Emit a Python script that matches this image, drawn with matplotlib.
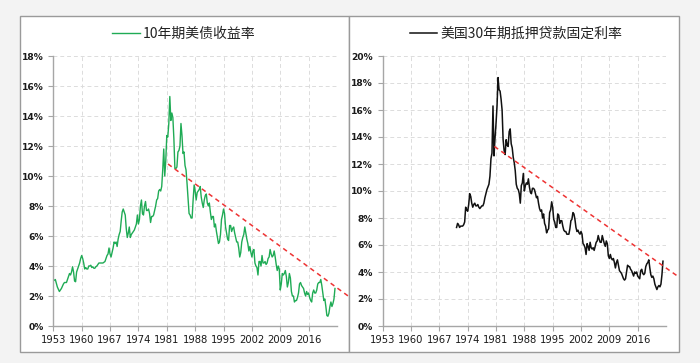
import matplotlib
matplotlib.use("Agg")
import matplotlib.pyplot as plt
from matplotlib.patches import Rectangle
from matplotlib.ticker import FuncFormatter

plt.rcParams['font.family'] = ['Noto Sans CJK SC', 'DejaVu Sans']

# ---------------- data ----------------
title_left = "10年期美债收益率"
title_right = "美国30年期抵押贷款固定利率"
xticks = [1953, 1960, 1967, 1974, 1981, 1988, 1995, 2002, 2009, 2016]

# 10-year Treasury yield, quarterly, from 1953.25
t10_start = 1953.25
t10 = [
    3.05, 3.1, 2.85, 2.6,
    2.45, 2.3, 2.4, 2.5,
    2.65, 2.8, 2.9, 2.9,
    2.9, 3.1, 3.3, 3.5,
    3.4, 3.6, 3.95, 3.6,
    3.0, 2.95, 3.6, 3.8,
    4.0, 4.2, 4.5, 4.7,
    4.5, 4.2, 3.8, 3.9,
    3.8, 3.8, 4.0, 4.0,
    4.05, 3.9, 3.95, 3.85,
    3.85, 3.95, 4.0, 4.1,
    4.2, 4.2, 4.2, 4.2,
    4.2, 4.25, 4.3, 4.5,
    4.7, 4.8, 5.2, 4.8,
    4.6, 4.9, 5.2, 5.6,
    5.5, 5.6, 5.3, 5.8,
    6.1, 6.3, 7.0, 7.6,
    7.8, 7.6, 7.4, 6.5,
    5.9, 6.2, 6.6, 5.9,
    6.1, 6.2, 6.3, 6.4,
    6.6, 6.8, 7.4, 6.8,
    7.1, 8.0, 8.4, 7.5,
    7.4, 8.0, 8.3, 7.7,
    7.7, 7.8, 7.5, 6.9,
    7.3, 7.3, 7.4, 7.7,
    8.0, 8.4, 8.5, 9.0,
    9.1, 9.0, 9.3, 10.4,
    11.8, 10.0, 11.0, 12.7,
    12.6, 13.5, 15.3, 13.7,
    14.2, 13.9, 12.5, 10.5,
    10.5, 10.6, 11.6, 11.7,
    12.0, 13.5, 12.7, 11.5,
    11.6, 10.7, 10.4, 9.5,
    8.5, 7.5, 7.4, 7.2,
    7.2, 8.4, 9.4, 9.0,
    8.4, 8.9, 9.0, 9.1,
    9.3, 8.6, 8.2, 7.9,
    8.4, 8.7, 8.8, 8.2,
    8.0, 8.2, 7.6, 7.1,
    7.3, 7.3, 6.6, 6.8,
    6.3, 5.9, 5.5, 5.6,
    6.1, 7.1, 7.4, 7.8,
    7.5, 6.6, 6.2, 5.8,
    5.7, 6.7, 6.7, 6.3,
    6.5, 6.6, 6.2, 5.9,
    5.6, 5.6, 5.2, 4.6,
    4.9, 5.6, 5.9, 6.1,
    6.6, 6.2, 5.8, 5.5,
    5.0, 5.3, 4.9, 4.6,
    5.0, 5.1, 4.2, 4.0,
    3.9, 3.4, 4.3, 4.3,
    4.0, 4.7, 4.2, 4.2,
    4.3, 4.1, 4.2, 4.5,
    4.6, 5.1, 4.8, 4.6,
    4.7, 5.0, 4.6, 4.1,
    3.7, 4.0, 3.8, 2.4,
    2.8, 3.5, 3.4, 3.5,
    3.7, 3.3, 2.6, 2.9,
    3.5, 3.2, 2.3, 2.0,
    2.0, 1.6, 1.7, 1.7,
    1.9, 2.2, 2.8, 2.9,
    2.7, 2.6, 2.5, 2.2,
    2.0, 2.3, 2.1, 2.2,
    1.9, 1.7, 1.6, 2.2,
    2.4, 2.2, 2.2, 2.4,
    2.8, 2.9, 2.9, 3.1,
    2.7, 2.2, 1.7, 1.8,
    1.3, 0.7, 0.65, 0.85,
    1.3, 1.6, 1.3, 1.5,
    1.8, 2.5,
]

# 30-year fixed mortgage rate, quarterly, from 1971.25
mort_start = 1971.25
mort = [
    7.3, 7.6, 7.5,
    7.3, 7.4, 7.4, 7.4,
    7.5, 7.7, 8.8, 8.6,
    8.5, 9.0, 9.8, 9.6,
    9.1, 8.8, 9.0, 9.1,
    8.9, 8.9, 9.0, 8.8,
    8.7, 8.8, 8.9, 8.9,
    9.1, 9.5, 9.8, 10.1,
    10.3, 10.5, 11.1, 12.4,
    12.8, 16.3, 12.6, 13.9,
    15.0, 16.3, 18.4, 17.5,
    17.4, 16.8, 16.0, 13.8,
    13.0, 12.7, 13.8, 13.4,
    13.3, 14.4, 14.6, 13.5,
    13.2, 12.5, 12.1, 11.5,
    10.5, 10.2, 10.1, 9.8,
    9.1, 10.4, 10.6, 11.3,
    10.0, 10.4, 10.6, 10.5,
    10.9, 10.3, 9.9, 9.8,
    10.2, 10.2, 10.1, 9.8,
    9.5, 9.6, 9.1, 8.7,
    8.5, 8.6, 8.0, 8.3,
    7.6, 7.4, 6.9, 7.1,
    7.2, 8.4, 8.6, 9.2,
    8.8, 7.9, 7.7, 7.3,
    7.3, 8.3, 8.2, 7.6,
    7.8, 7.8, 7.4, 7.1,
    7.0, 7.0, 6.8, 6.8,
    6.8, 7.2, 7.8, 7.9,
    8.4, 8.3, 7.9, 7.3,
    7.0, 7.1, 6.9, 6.8,
    7.0, 6.8, 6.1, 6.0,
    5.8, 5.3, 6.1, 5.9,
    5.6, 6.2, 5.8, 5.7,
    5.8, 5.6, 5.9, 6.2,
    6.3, 6.7, 6.4, 6.2,
    6.2, 6.7, 6.4, 6.1,
    5.9, 6.3, 6.1, 5.2,
    5.0, 5.3, 5.0, 4.9,
    5.0, 4.7, 4.3, 4.7,
    4.9, 4.5, 4.1, 4.0,
    3.9, 3.7, 3.5, 3.4,
    3.5, 4.0, 4.5, 4.4,
    4.4, 4.2, 4.1, 3.9,
    3.7, 4.0, 3.9, 4.0,
    3.7, 3.6, 3.5, 4.1,
    4.2, 3.9, 3.8, 3.9,
    4.4, 4.6, 4.7, 4.9,
    4.3, 3.8, 3.6, 3.7,
    3.5, 3.1, 2.9, 2.7,
    2.9, 3.0, 2.9, 3.1,
    3.8, 4.8,
]

# red dashed trend lines: (x0, y0, x1, y1)
trend_left = (1981.3, 10.8, 2026.0, 1.95)
trend_right = (1980.6, 13.3, 2026.3, 3.6)

# ---------------- figure ----------------
W, H = 700, 363
fig = plt.figure(figsize=(W / 100, H / 100), dpi=100)
fig.patch.set_facecolor('#f3f3f3')

def px(x0, y0, x1, y1):
    return [x0 / W, 1 - y1 / H, (x1 - x0) / W, (y1 - y0) / H]

for (x0, x1) in [(20, 349), (349, 679)]:
    r = Rectangle((x0 / W, 1 - 352 / H), (x1 - x0) / W, 336 / H,
                  transform=fig.transFigure, facecolor='white',
                  edgecolor='#9a9a9a', linewidth=1.0, zorder=-10)
    fig.patches.append(r)

TICK_FONT = ['Liberation Sans Narrow', 'DejaVu Sans']

def style(ax, ymax, ystep):
    ax.set_facecolor('none')
    ax.set_xlim(1953, 2023)
    ax.set_ylim(0, ymax)
    ax.set_xticks(xticks)
    ax.set_xticklabels([str(v) for v in xticks])
    ax.set_yticks([v for v in range(0, ymax + 1, ystep)])
    ax.yaxis.set_major_formatter(FuncFormatter(lambda v, p: f"{int(v)}%"))
    for s in ['top', 'right']:
        ax.spines[s].set_visible(False)
    for s in ['left', 'bottom']:
        ax.spines[s].set_color('#a6a6a6')
        ax.spines[s].set_linewidth(1.0)
    ax.grid(True, color='#dcdcdc', linestyle=(0, (4, 3)), linewidth=0.7)
    ax.set_axisbelow(True)
    ax.tick_params(axis='both', colors='#a6a6a6', length=3.5, width=0.8,
                   labelcolor='#1a1a1a')
    ax.tick_params(axis='x', pad=3)
    ax.tick_params(axis='y', pad=3.5)
    for lab in ax.get_xticklabels():
        lab.set_family(TICK_FONT)
        lab.set_fontsize(7.2)
    for lab in ax.get_yticklabels():
        lab.set_family(TICK_FONT)
        lab.set_fontsize(6.6)
        lab.set_fontweight('bold')

# left
axL = fig.add_axes(px(53.3, 56, 337, 326))
axL.set_zorder(2)
style(axL, 18, 2)
xL = [t10_start + 0.25 * i for i in range(len(t10))]
axL.plot(xL, t10, color='#1fab55', linewidth=1.0, label=title_left)
axL.plot([trend_left[0], trend_left[2]], [trend_left[1], trend_left[3]],
         color='#ee3333', linestyle=(0, (3, 2.5)), linewidth=1.1, clip_on=False)
axL.legend(loc='lower center', bbox_to_anchor=(0.46, 1.01), frameon=False,
           fontsize=10, handlelength=2.0, handletextpad=0.2,
           labelcolor='#222222')

# right
axR = fig.add_axes(px(382.7, 56, 666, 326))
axR.set_zorder(2)
style(axR, 20, 2)
xR = [mort_start + 0.25 * i for i in range(len(mort))]
axR.plot(xR, mort, color='#111111', linewidth=1.1, label=title_right)
axR.plot([trend_right[0], trend_right[2]], [trend_right[1], trend_right[3]],
         color='#ee3333', linestyle=(0, (3, 2.5)), linewidth=1.1, clip_on=False)
axR.legend(loc='lower center', bbox_to_anchor=(0.47, 1.01), frameon=False,
           fontsize=10, handlelength=2.0, handletextpad=0.2,
           labelcolor='#222222')

fig.savefig('out.png', dpi=100, facecolor=fig.get_facecolor())
